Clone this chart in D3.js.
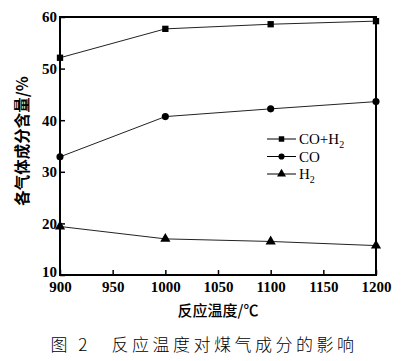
<!DOCTYPE html>
<html>
<head>
<meta charset="utf-8">
<script src="https://cdnjs.cloudflare.com/ajax/libs/d3/7.8.5/d3.min.js"></script>
<style>
  body { margin: 0; background: #fff; }
  .tick text { font-family: "Liberation Serif", serif; font-weight: bold; font-size: 15px; fill: #000; }
</style>
</head>
<body>
<div id="chart"></div>
<script>
var temps = [900, 1000, 1100, 1200];
var coH2 = [52.1, 57.7, 58.6, 59.2];
var co = [32.9, 40.7, 42.2, 43.6];
var h2 = [19.4, 17.0, 16.5, 15.7];
var xTicks = [900, 950, 1000, 1050, 1100, 1150, 1200];
var yTicks = [10, 20, 30, 40, 50, 60];

var svgWidth = 401;
var svgHeight = 361;
var margin = { top: 17, right: 25, bottom: 86, left: 60 };
var width = svgWidth - margin.left - margin.right;
var height = svgHeight - margin.top - margin.bottom;

var svg = d3.select("#chart")
    .append("svg")
    .attr("width", svgWidth)
    .attr("height", svgHeight);

var chartGroup = svg.append("g")
    .attr("transform", `translate(${margin.left},${margin.top})`);

var xScale = d3.scaleLinear().domain([900, 1200]).range([0, width]);
var yScale = d3.scaleLinear().domain([10, 60]).range([height, 0]);

// frame
chartGroup.append("rect")
    .attr("width", width)
    .attr("height", height)
    .attr("fill", "none")
    .attr("stroke", "#000")
    .attr("stroke-width", 2);

var bottomAxis = d3.axisBottom(xScale).tickValues(xTicks).tickFormat(d3.format("d"))
    .tickSizeInner(-5).tickSizeOuter(0).tickPadding(9);
var leftAxis = d3.axisLeft(yScale).tickValues(yTicks).tickFormat(d3.format("d"))
    .tickSizeInner(-5).tickSizeOuter(0).tickPadding(3);

var xAxis = chartGroup.append("g")
    .attr("transform", `translate(0,${height})`)
    .call(bottomAxis);
xAxis.select(".domain").remove();
xAxis.selectAll("line").attr("stroke-width", 1.5);
xAxis.selectAll("text").attr("dy", "0.55em");

var yAxis = chartGroup.append("g").call(leftAxis);
yAxis.select(".domain").remove();
yAxis.selectAll("line").attr("stroke-width", 1.5);
yAxis.selectAll("text").filter(d => d === 10).attr("dy", "0.1em");

var series = [
    { name: "CO+H2", values: coH2, shape: d3.symbolSquare, size: 40 },
    { name: "CO", values: co, shape: d3.symbolCircle, size: 40 },
    { name: "H2", values: h2, shape: d3.symbolTriangle, size: 45 }
];

var line = d3.line()
    .x((d, i) => xScale(temps[i]))
    .y(d => yScale(d));

series.forEach(function(s) {
    chartGroup.append("path")
        .datum(s.values)
        .attr("d", line)
        .attr("fill", "none")
        .attr("stroke", "#222")
        .attr("stroke-width", 1);
    chartGroup.selectAll(null)
        .data(s.values)
        .enter()
        .append("path")
        .attr("d", d3.symbol().type(s.shape).size(s.size))
        .attr("transform", (d, i) => `translate(${xScale(temps[i])},${yScale(d)})`)
        .attr("fill", "#000");
});

// legend
var legend = chartGroup.append("g")
    .attr("transform", "translate(207,122)");
series.forEach(function(s, i) {
    var row = legend.append("g").attr("transform", `translate(0,${i * 17.5})`);
    row.append("line")
        .attr("x1", 0).attr("x2", 29)
        .attr("stroke", "#000").attr("stroke-width", 1);
    row.append("path")
        .attr("d", d3.symbol().type(s.shape).size(s.size - 10))
        .attr("transform", "translate(14.5,0)")
        .attr("fill", "#000");
    var t = row.append("text")
        .attr("x", 32).attr("y", 5)
        .style("font-family", "'Liberation Serif', serif")
        .style("font-size", "15px");
    if (s.name === "CO+H2") {
        t.append("tspan").text("CO+H");
        t.append("tspan").attr("dy", 4).style("font-size", "10px").text("2");
    } else if (s.name === "H2") {
        t.append("tspan").text("H");
        t.append("tspan").attr("dy", 4).style("font-size", "10px").text("2");
    } else {
        t.text(s.name);
    }
});

// axis labels
chartGroup.append("text")
    .attr("transform", "rotate(-90)")
    .attr("x", -(height / 2) + 5)
    .attr("y", -32)
    .attr("text-anchor", "middle")
    .style("font-family", "'Noto Sans CJK SC', sans-serif")
    .style("font-weight", "bold")
    .style("font-size", "15.5px")
    .text("各气体成分含量/%");

chartGroup.append("text")
    .attr("x", width / 2)
    .attr("y", height + 41)
    .attr("text-anchor", "middle")
    .style("font-family", "'Noto Sans CJK SC', sans-serif")
    .style("font-weight", "500")
    .style("font-size", "15px")
    .text("反应温度/℃");

svg.append("text")
    .attr("x", 204)
    .attr("y", 351)
    .attr("text-anchor", "middle")
    .style("font-family", "'Noto Sans CJK SC', sans-serif")
    .style("font-weight", "300")
    .style("font-size", "17px")
    .style("letter-spacing", "3.5px")
    .text("图 2　反应温度对煤气成分的影响");
</script>
</body>
</html>
